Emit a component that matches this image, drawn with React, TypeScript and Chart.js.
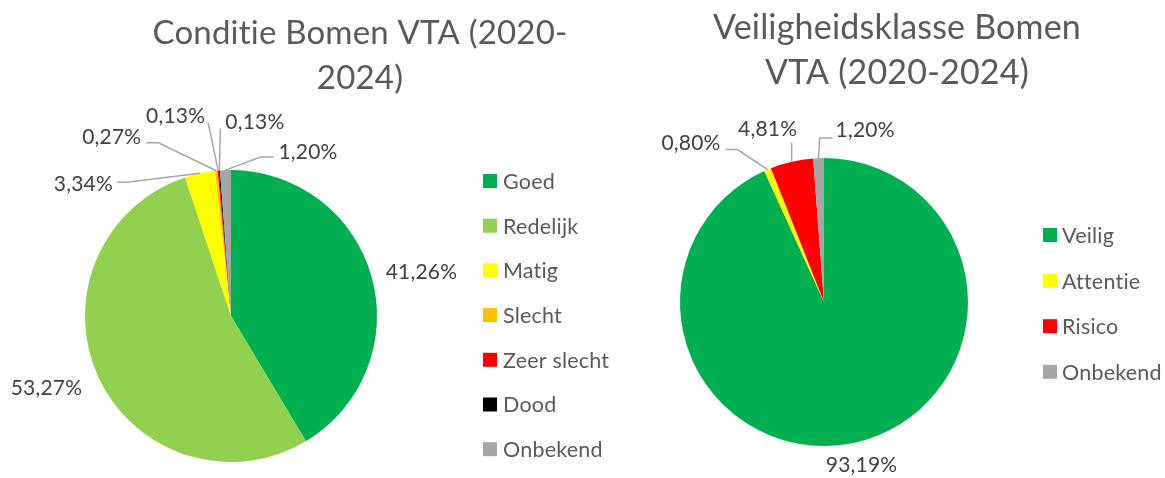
import React, { useEffect, useRef } from "react";
import { Chart, registerables } from "chart.js";

Chart.register(...registerables);

// ---------- DATA ----------
const conditieCategories = ["Goed", "Redelijk", "Matig", "Slecht", "Zeer slecht", "Dood", "Onbekend"];
const conditieValues = [41.26, 53.27, 3.34, 0.27, 0.13, 0.13, 1.2];
const conditieColors = ["#00B050", "#92D050", "#FFFF00", "#FFC000", "#FF0000", "#000000", "#A6A6A6"];
const conditieTitle = ["Conditie Bomen VTA (2020-", "2024)"];

const veiligCategories = ["Veilig", "Attentie", "Risico", "Onbekend"];
const veiligValues = [93.19, 0.8, 4.81, 1.2];
const veiligColors = ["#00B050", "#FFFF00", "#FF0000", "#A6A6A6"];
const veiligTitle = ["Veiligheidsklasse Bomen", "VTA (2020-2024)"];

// ---------- LAYOUT / STYLE ----------
const W = 1165;
const H = 478;
const FONT = "Lato, 'Open Sans', sans-serif";
const TITLE_COLOR = "#595959";
const LABEL_COLOR = "#404040";
const LEADER_COLOR = "#A6A6A6";

type LabelLayout = { dx: number; dy: number; align: CanvasTextAlign; path?: number[][] };

const conditieLabelLayout: LabelLayout[] = [
  { dx: 14, dy: -5, align: "left" },
  { dx: -16, dy: 11, align: "right" },
  { dx: -87, dy: 11, align: "right", path: [[-73, 9], [-83, 9]] },
  { dx: -75, dy: -34, align: "right", path: [[-58, -28], [-70, -28]] },
  { dx: -13, dy: -54, align: "right", path: [[-10, -48]] },
  { dx: 6, dy: -48, align: "left", path: [[1, -42]] },
  { dx: 53, dy: -18, align: "left", path: [[35, -13], [48, -13]] },
];

const veiligLabelLayout: LabelLayout[] = [
  { dx: 7, dy: 23, align: "center" },
  { dx: -47, dy: -26, align: "right", path: [[-30, -20], [-42, -20]] },
  { dx: -24, dy: -32, align: "center", path: [[0, -19]] },
  { dx: 17, dy: -28, align: "left", path: [[1, -20], [14, -20]] },
];

type PanelCfg = {
  title: string[];
  titleX: number;
  titleY: number[];
  titleSize: number;
  legendX: number;
  legendTextX: number;
  legendY0: number;
  legendStep: number;
  legendSize: number;
  labelSize: number;
  labels: string[];
  layout: LabelLayout[];
};

const fmt = (v: number) => v.toFixed(2).replace(".", ",") + "%";

const panelPlugin = {
  id: "panelDecor",
  afterDraw(chart: any, _args: any, opts: PanelCfg) {
    const ctx: any = chart.ctx;
    const ds = chart.data.datasets[0];
    const meta = chart.getDatasetMeta(0);
    ctx.save();
    try {
      ctx.letterSpacing = "0.2px";
    } catch (e) {}
    // title
    ctx.fillStyle = TITLE_COLOR;
    ctx.font = `${opts.titleSize}px ${FONT}`;
    ctx.textAlign = "center";
    ctx.textBaseline = "alphabetic";
    opts.title.forEach((t, i) => ctx.fillText(t, opts.titleX, opts.titleY[i]));
    // legend
    ctx.font = `${opts.legendSize}px ${FONT}`;
    ctx.textAlign = "left";
    ctx.textBaseline = "middle";
    chart.data.labels.forEach((lab: string, i: number) => {
      const cy = opts.legendY0 + i * opts.legendStep;
      ctx.fillStyle = ds.backgroundColor[i];
      ctx.fillRect(opts.legendX, cy - 7, 14, 14);
      ctx.fillStyle = TITLE_COLOR;
      ctx.fillText(lab, opts.legendTextX, cy + 1);
    });
    // data labels
    ctx.font = `${opts.labelSize}px ${FONT}`;
    meta.data.forEach((arc: any, i: number) => {
      const lay = opts.layout[i];
      if (!lay) return;
      const mid = (arc.startAngle + arc.endAngle) / 2;
      const ex = arc.x + Math.cos(mid) * arc.outerRadius;
      const ey = arc.y + Math.sin(mid) * arc.outerRadius;
      if (lay.path) {
        ctx.strokeStyle = LEADER_COLOR;
        ctx.lineWidth = 1.5;
        ctx.beginPath();
        ctx.moveTo(ex, ey);
        lay.path.forEach((p) => ctx.lineTo(ex + p[0], ey + p[1]));
        ctx.stroke();
      }
      ctx.fillStyle = LABEL_COLOR;
      ctx.textAlign = lay.align;
      ctx.textBaseline = "middle";
      ctx.fillText(opts.labels[i], ex + lay.dx, ey + lay.dy);
    });
    ctx.restore();
  },
};

function PieChart(props: {
  labels: string[];
  values: number[];
  colors: string[];
  padding: { left: number; right: number; top: number; bottom: number };
  panel: PanelCfg;
}) {
  const ref = useRef<HTMLCanvasElement>(null);
  useEffect(() => {
    if (!ref.current) return;
    const chart = new Chart(ref.current, {
      type: "pie",
      data: {
        labels: props.labels,
        datasets: [
          {
            data: props.values,
            backgroundColor: props.colors,
            borderWidth: 0,
          },
        ],
      },
      options: {
        responsive: false,
        animation: false,
        devicePixelRatio: 1,
        layout: { padding: props.padding },
        events: [],
        plugins: {
          legend: { display: false },
          title: { display: false },
          tooltip: { enabled: false },
          panelDecor: props.panel,
        } as any,
      },
      plugins: [panelPlugin],
    });
    return () => chart.destroy();
  }, []);
  return (
    <canvas
      ref={ref}
      width={W}
      height={H}
      style={{ position: "absolute", left: 0, top: 0, width: W, height: H }}
    />
  );
}

export default function App() {
  return (
    <div style={{ position: "fixed", left: 0, top: 0, width: W, height: H, background: "#fff", overflow: "hidden" }}>
      <PieChart
        labels={conditieCategories}
        values={conditieValues}
        colors={conditieColors}
        padding={{ left: 85, right: 788, top: 170, bottom: 16 }}
        panel={{
          title: conditieTitle,
          titleX: 360,
          titleY: [44, 89],
          titleSize: 33,
          legendX: 483,
          legendTextX: 503,
          legendY0: 181,
          legendStep: 44.7,
          legendSize: 21.5,
          labelSize: 21,
          labels: conditieValues.map(fmt),
          layout: conditieLabelLayout,
        }}
      />
      <PieChart
        labels={veiligCategories}
        values={veiligValues}
        colors={veiligColors}
        padding={{ left: 680, right: 197, top: 158, bottom: 32 }}
        panel={{
          title: veiligTitle,
          titleX: 897,
          titleY: [39, 84],
          titleSize: 34,
          legendX: 1043,
          legendTextX: 1062,
          legendY0: 235,
          legendStep: 45.6,
          legendSize: 21.5,
          labelSize: 21,
          labels: veiligValues.map(fmt),
          layout: veiligLabelLayout,
        }}
      />
    </div>
  );
}
